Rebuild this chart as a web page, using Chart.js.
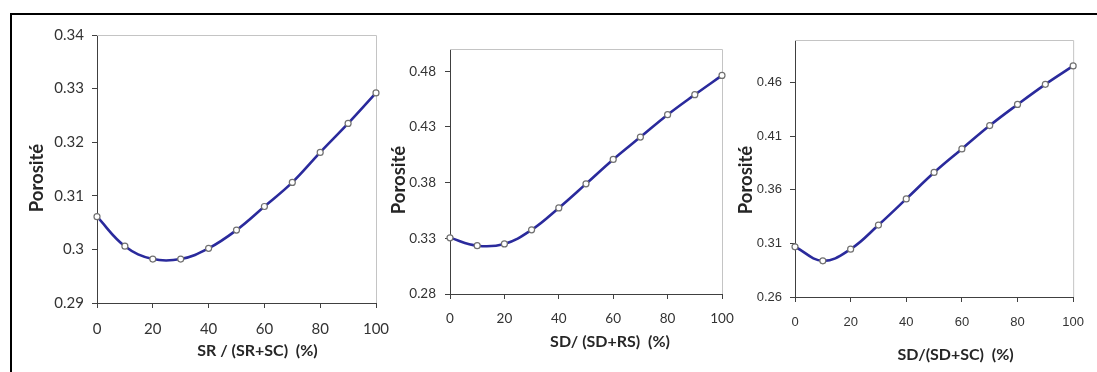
<!DOCTYPE html>
<html>
<head>
<meta charset="utf-8">
<script src="https://cdn.jsdelivr.net/npm/chart.js@4.4.1/dist/chart.umd.min.js"></script>
<style>
  html, body { margin: 0; padding: 0; background: #fff; }
  body { width: 1097px; height: 372px; position: relative; overflow: hidden; }
  canvas { position: absolute; left: 0; top: 0; }
  #frame { position: absolute; left: 10px; top: 13px; width: 1100px; height: 400px;
           border-left: 2px solid #000; border-top: 2px solid #000; }
</style>
</head>
<body>
<div id="frame"></div>
<canvas id="c1" width="1097" height="372"></canvas>
<canvas id="c2" width="1097" height="372"></canvas>
<canvas id="c3" width="1097" height="372"></canvas>
<script>
// ---- data ----
const xValues = [0, 10, 20, 30, 40, 50, 60, 70, 80, 90, 100];
const porosity1 = [0.3061, 0.3006, 0.2982, 0.2982, 0.3002, 0.3036, 0.3080, 0.3125, 0.3181, 0.3235, 0.3292];
const porosity2 = [0.3304, 0.3234, 0.3250, 0.3376, 0.3573, 0.3789, 0.4008, 0.4209, 0.4410, 0.4590, 0.4763];
const porosity3 = [0.3069, 0.2938, 0.3047, 0.3272, 0.3516, 0.3763, 0.3983, 0.4201, 0.4398, 0.4586, 0.4758];
const xTicks = [0, 20, 40, 60, 80, 100];
const yTicks1 = [0.29, 0.30, 0.31, 0.32, 0.33, 0.34];
const yTicks2 = [0.28, 0.33, 0.38, 0.43, 0.48];
const yTicks3 = [0.26, 0.31, 0.36, 0.41, 0.46];
const xTitles = ['SR / (SR+SC)  (%)', 'SD/ (SD+RS)  (%)', 'SD/(SD+SC)  (%)'];
const yTitle = 'Porosité';

const frameBorder = {
  id: 'frameBorder',
  beforeDatasetsDraw(chart) {
    const a = chart.chartArea, ctx = chart.ctx;
    ctx.save();
    ctx.strokeStyle = '#c4c4c4';
    ctx.lineWidth = 1;
    ctx.beginPath();
    ctx.moveTo(a.left, a.top + 0.5);
    ctx.lineTo(a.right + 0.5, a.top + 0.5);
    ctx.lineTo(a.right + 0.5, a.bottom);
    ctx.stroke();
    ctx.restore();
  }
};

// axis titles placed relative to the chart area (the originals sit off-centre)
const axisTitles = {
  id: 'axisTitles',
  afterDraw(chart, args, opts) {
    const a = chart.chartArea, ctx = chart.ctx;
    ctx.save();
    ctx.fillStyle = '#262626';
    ctx.textAlign = 'center';
    ctx.textBaseline = 'middle';
    ctx.font = 'bold ' + opts.xSize + 'px Lato';
    ctx.fillText(opts.xText, (a.left + a.right) / 2 + opts.xShift, a.bottom + opts.xDrop);
    ctx.translate(a.left - opts.yGap, (a.top + a.bottom) / 2 + opts.yShift);
    ctx.rotate(-Math.PI / 2);
    ctx.font = 'bold ' + opts.ySize + 'px Lato';
    ctx.fillText(opts.yText, 0, 0);
    ctx.restore();
  }
};

function makeChart(id, values, yTicks, yMin, yMax, xTitle, cfg) {
  const pts = xValues.map((x, i) => ({ x: x, y: values[i] }));
  return new Chart(document.getElementById(id), {
    type: 'line',
    data: { datasets: [{
      data: pts,
      borderColor: '#2a2a9c',
      borderWidth: 2.6,
      tension: 0.4,
      pointRadius: 3,
      pointBackgroundColor: '#ffffff',
      pointBorderColor: '#707070',
      pointBorderWidth: 1.2,
      clip: false
    }]},
    options: {
      responsive: false,
      animation: false,
      events: [],
      layout: { padding: cfg.pad },
      plugins: {
        legend: { display: false }, tooltip: { enabled: false },
        axisTitles: { xText: xTitle, yText: yTitle, xSize: 16, ySize: 18.5,
                      xShift: cfg.xShift, xDrop: cfg.xDrop, yGap: cfg.yGap, yShift: cfg.yShift }
      },
      scales: {
        x: {
          type: 'linear', min: 0, max: 100,
          afterBuildTicks: s => { s.ticks = xTicks.map(v => ({ value: v })); },
          afterFit: s => { s.height = cfg.xH; },
          grid: { drawOnChartArea: false, color: '#404040', tickLength: 5 },
          border: { color: '#404040', width: 1 },
          ticks: { color: '#333333', padding: cfg.xPad, font: { family: cfg.tickFont, size: cfg.tickSize } }
        },
        y: {
          type: 'linear', min: yMin, max: yMax,
          afterBuildTicks: s => { s.ticks = yTicks.map(v => ({ value: v })); },
          afterFit: s => { s.width = cfg.yW; },
          grid: { drawOnChartArea: false, color: '#404040', tickLength: 5 },
          border: { color: '#404040', width: 1 },
          ticks: { color: '#333333', padding: cfg.yPad, font: { family: cfg.tickFont, size: cfg.tickSize },
                   callback: v => String(Math.round(v * 1000) / 1000) }
        }
      }
    },
    plugins: [frameBorder, axisTitles]
  });
}

makeChart('c1', porosity1, yTicks1, 0.29, 0.34, xTitles[0], {
  pad: { left: 26, right: 721, top: 35, bottom: 10 }, yW: 71, xH: 59,
  xPad: 12, yPad: 8, tickFont: 'Lato', tickSize: 15,
  xShift: 21, xDrop: 48, yGap: 59.5, yShift: 9 });
makeChart('c2', porosity2, yTicks2, 0.28, 0.50, xTitles[1], {
  pad: { left: 388, right: 375, top: 49, bottom: 19 }, yW: 62, xH: 59,
  xPad: 12, yPad: 9, tickFont: 'Lato', tickSize: 13.5,
  xShift: 24, xDrop: 48, yGap: 50.5, yShift: 8.5 });
makeChart('c3', porosity3, yTicks3, 0.26, 0.50, xTitles[2], {
  pad: { left: 735, right: 15, top: 40, bottom: 6 }, yW: 60, xH: 69,
  xPad: 13, yPad: 8, tickFont: 'Liberation Sans', tickSize: 13,
  xShift: 21.5, xDrop: 58, yGap: 49, yShift: 11.5 });
</script>
</body>
</html>
